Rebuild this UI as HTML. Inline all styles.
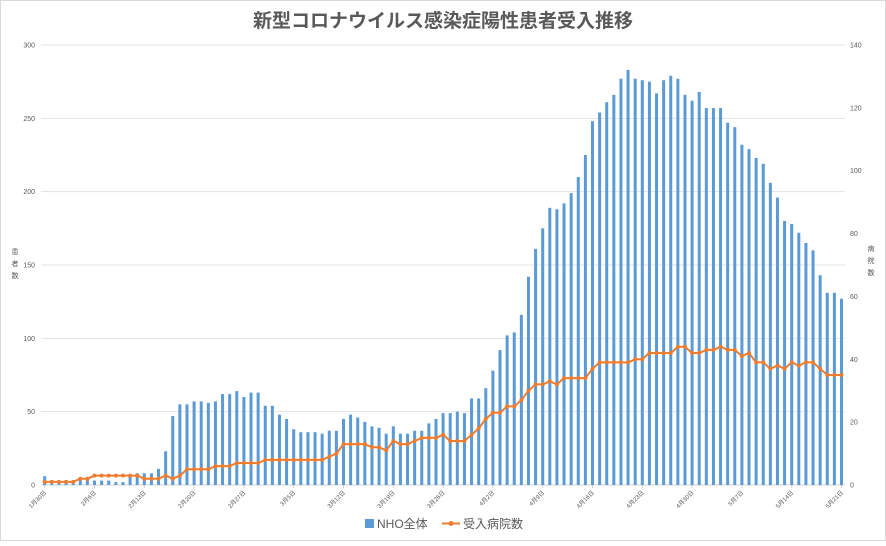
<!DOCTYPE html>
<html><head><meta charset="utf-8">
<style>
html,body{margin:0;padding:0;background:#fff;}
body{width:886px;height:541px;overflow:hidden;font-family:"Liberation Sans","Noto Sans CJK JP",sans-serif;}
svg text{font-family:"Liberation Sans","Noto Sans CJK JP",sans-serif;}
</style></head>
<body>
<svg id="chart" width="886" height="541" xmlns="http://www.w3.org/2000/svg">
<rect x="0.5" y="0.5" width="885" height="540" fill="#fff" stroke="#d9d9d9"/>
<text x="443" y="27" text-anchor="middle" font-size="19" font-weight="bold" fill="#595959">新型コロナウイルス感染症陽性患者受入推移</text>
<g id="grid"></g>
<g id="bars"></g>
<g id="line"></g>
<g id="axes"></g>
<g font-size="7" fill="#595959">
<text x="15" y="254" text-anchor="middle">患</text><text x="15" y="266" text-anchor="middle">者</text><text x="15" y="278" text-anchor="middle">数</text>
</g>
<g font-size="7" fill="#595959">
<text x="871" y="251" text-anchor="middle">病</text><text x="871" y="263" text-anchor="middle">院</text><text x="871" y="275" text-anchor="middle">数</text>
</g>
<g>
<rect x="365" y="519" width="9" height="9" fill="#5B9BD5"/>
<text x="377" y="528" font-size="12" fill="#595959">NHO全体</text>
<line x1="442" y1="523.5" x2="460" y2="523.5" stroke="#ED7D31" stroke-width="2"/>
<circle cx="451" cy="523.5" r="2.5" fill="#ED7D31"/>
<text x="463" y="528" font-size="12" fill="#595959">受入病院数</text>
</g>
</svg>
<script>
const startDate = [1, 30];
const patients = [6,1,1,1,1,4,4,3,3,3,2,2,7,8,8,8,11,23,47,55,55,57,57,56,57,62,62,64,60,63,63,54,54,48,45,38,36,36,36,35,37,37,45,48,46,43,40,39,35,40,35,35,37,37,42,45,49,49,50,49,59,59,66,78,92,102,104,116,142,161,175,189,188,192,199,210,225,248,254,261,266,277,283,277,276,275,267,276,279,277,266,262,268,257,257,257,247,244,232,229,223,219,206,196,180,178,172,165,160,143,131,131,127];
const hospitals = [1,1,1,1,1,2,2,3,3,3,3,3,3,3,2,2,2,3,2,3,5,5,5,5,6,6,6,7,7,7,7,8,8,8,8,8,8,8,8,8,9,10,13,13,13,13,12,12,11,14,13,13,14,15,15,15,16,14,14,14,16,18,21,23,23,25,25,27,30,32,32,33,32,34,34,34,34,37,39,39,39,39,39,40,40,42,42,42,42,44,44,42,42,43,43,44,43,43,41,42,39,39,37,38,37,39,38,39,39,37,35,35,35];
const leftTicks = [0,50,100,150,200,250,300];
const rightTicks = [0,20,40,60,80,100,120,140];

const NS = "http://www.w3.org/2000/svg";
const X0 = 44.7, X1 = 841.5, Y0 = 485, Y1 = 45;
const n = patients.length;
function xPos(i){ return X0 + (X1 - X0) * i / (n - 1); }
function yLeft(v){ return Y0 - (Y0 - Y1) * v / 300; }
function yRight(v){ return Y0 - (Y0 - Y1) * v / 140; }
function mk(tag, attrs, parent){ const e = document.createElementNS(NS, tag); for (const k in attrs) e.setAttribute(k, attrs[k]); parent.appendChild(e); return e; }
const grid = document.getElementById('grid'), axes = document.getElementById('axes');
const barsG = document.getElementById('bars'), lineG = document.getElementById('line');

leftTicks.forEach(t => {
  const g = mk('line', {x1: 41, x2: 845, y1: yLeft(t), y2: yLeft(t), stroke: t === 0 ? '#d0d0d0' : '#e3e3e3', 'stroke-width': 1}, grid);
  
  
  const tx = mk('text', {x: 35, y: yLeft(t) + 2.5, 'text-anchor': 'end', 'font-size': 7, fill: '#595959'}, axes);
  tx.textContent = t;
  
  
});
rightTicks.forEach(t => {
  const tx = mk('text', {x: 850, y: yRight(t) + 2.5, 'text-anchor': 'start', 'font-size': 7, fill: '#595959'}, axes);
  tx.textContent = t;
  
  
});

const dim = [31,29,31,30,31];
function dateLabel(i){ let m = startDate[0], d = startDate[1] + i; while (d > dim[m-1]) { d -= dim[m-1]; m++; } return m + '月' + d + '日'; }

patients.forEach((v, i) => {
  const r = mk('rect', {x: xPos(i) - 1.5, y: yLeft(v), width: 3, height: Y0 - yLeft(v), fill: '#5B9BD5'}, barsG);
  
  
  if (i % 7 === 0) {
    const tk = mk('line', {x1: xPos(i), x2: xPos(i), y1: Y0, y2: Y0 + 3, stroke: '#d0d0d0'}, axes);
    
    
    const x = xPos(i) + 2, y = Y0 + 8;
    const tx = mk('text', {x: x, y: y, 'text-anchor': 'end', 'font-size': 6, fill: '#595959', transform: 'rotate(-45 ' + x + ' ' + y + ')'}, axes);
    tx.textContent = dateLabel(i);
    
    
  }
});

const pts = hospitals.map((v, i) => xPos(i).toFixed(1) + ',' + yRight(v).toFixed(1)).join(' ');
const pl = mk('polyline', {points: pts, fill: 'none', stroke: '#ED7D31', 'stroke-width': 2, 'stroke-linejoin': 'round'}, lineG);


hospitals.forEach((v, i) => {
  const c = mk('circle', {cx: xPos(i), cy: yRight(v), r: 2, fill: '#ED7D31'}, lineG);
  
  
});
</script>
</body></html>
